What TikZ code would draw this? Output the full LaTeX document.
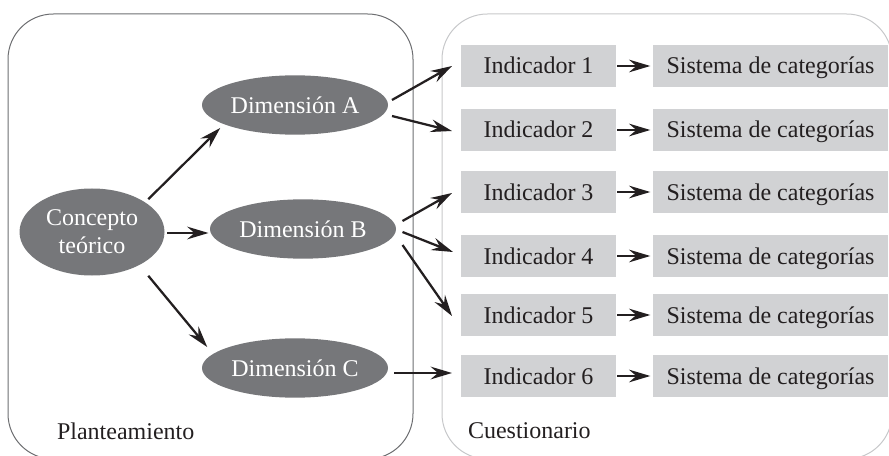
\documentclass[tikz,border=0pt]{standalone}
\usepackage{fontspec}
\setmainfont{Liberation Serif}
\usetikzlibrary{arrows.meta,positioning,shapes.geometric}

\definecolor{ovalgray}{HTML}{76777A}
\definecolor{boxgray}{HTML}{D1D2D4}
\definecolor{inkdark}{HTML}{231F20}
\definecolor{framegray}{HTML}{6D6E71}
\definecolor{framelight}{HTML}{C7C8CA}

\begin{document}
\begin{tikzpicture}[x=0.75pt, y=-0.75pt, >={Stealth[length=16pt,width=9.5pt,inset=5.5pt]},
    every node/.style={font=\fontsize{18}{21}\selectfont, inner sep=0pt, outer sep=0pt},
    oval/.style={ellipse, fill=ovalgray, text=white, align=center, minimum width=139.5pt, minimum height=44.5pt},
    indbox/.style={rectangle, fill=boxgray, text=inkdark, text height=14pt, text depth=2pt, minimum width=116.25pt, minimum height=31.5pt},
    sisbox/.style={rectangle, fill=boxgray, text=inkdark, text height=14pt, text depth=2pt, minimum width=176.25pt, minimum height=31.5pt},
    arr/.style={->, line width=1.7pt, draw=inkdark}]
    \useasboundingbox (0,0) rectangle (889,456);

    % Two rounded frames: Planteamiento (left) and Cuestionario (right)
    \draw[framegray, line width=0.75pt, rounded corners=34pt] (8,14) rectangle (413,459);
    \draw[framelight, line width=0.75pt, rounded corners=34pt] (442,14) rectangle (892,459);
    \node[anchor=west, text=inkdark] (plan) at (57,431) {Planteamiento};
    \node[anchor=west, text=inkdark] (cues) at (468,431) {Cuestionario};

    % Concept and its three dimensions
    \node[oval, minimum width=108.75pt, minimum height=65.25pt] (concepto) at (92,232) {Concepto\\te\'orico};
    \node[oval] (dimA) at (295,105) {Dimensión A};
    \node[oval] (dimB) at (303,229) {Dimensión B};
    \node[oval] (dimC) at (295,368) {Dimensión C};

    % Indicators, each followed by its category system
    \foreach \i/\y in {1/66, 2/130, 3/192, 4/256, 5/315, 6/376} {
        \node[indbox] (ind\i) at (538.5,\y) {Indicador \i};
        \node[sisbox, right=27.75pt of ind\i] (sis\i) {Sistema de categorías};
        \draw[arr, shorten <=1pt, shorten >=2pt] (ind\i) -- (sis\i);
    }

    % Concept to dimensions
    \draw[arr] ([shift={(5,-2)}]concepto.north east) -- ([shift={(-9,2)}]dimA.south west);
    \draw[arr] ([shift={(2.5,1)}]concepto.east) -- ([shift={(-1.5,4)}]dimB.west);
    \draw[arr] ([shift={(5,13)}]concepto.south east) -- ([shift={(-22,0)}]dimC.north west);

    % Dimension A to indicators 1 and 2
    \draw[arr] ([shift={(4,-5)}]dimA.east) -- ([shift={(-9,0)}]ind1.west);
    \draw[arr] ([shift={(4,11)}]dimA.east) -- ([shift={(-9,1)}]ind2.west);

    % Dimension B to indicators 3, 4 and 5
    \draw[arr] ([shift={(6.5,-8)}]dimB.east) -- ([shift={(-9,1)}]ind3.west);
    \draw[arr] ([shift={(6.5,3)}]dimB.east) -- ([shift={(-8,-4)}]ind4.west);
    \draw[arr] ([shift={(6.5,16)}]dimB.east) -- ([shift={(-9,1)}]ind5.west);

    % Dimension C to indicator 6
    \draw[arr] ([shift={(6,5)}]dimC.east) -- ([shift={(-9,-3)}]ind6.west);
\end{tikzpicture}
\end{document}
